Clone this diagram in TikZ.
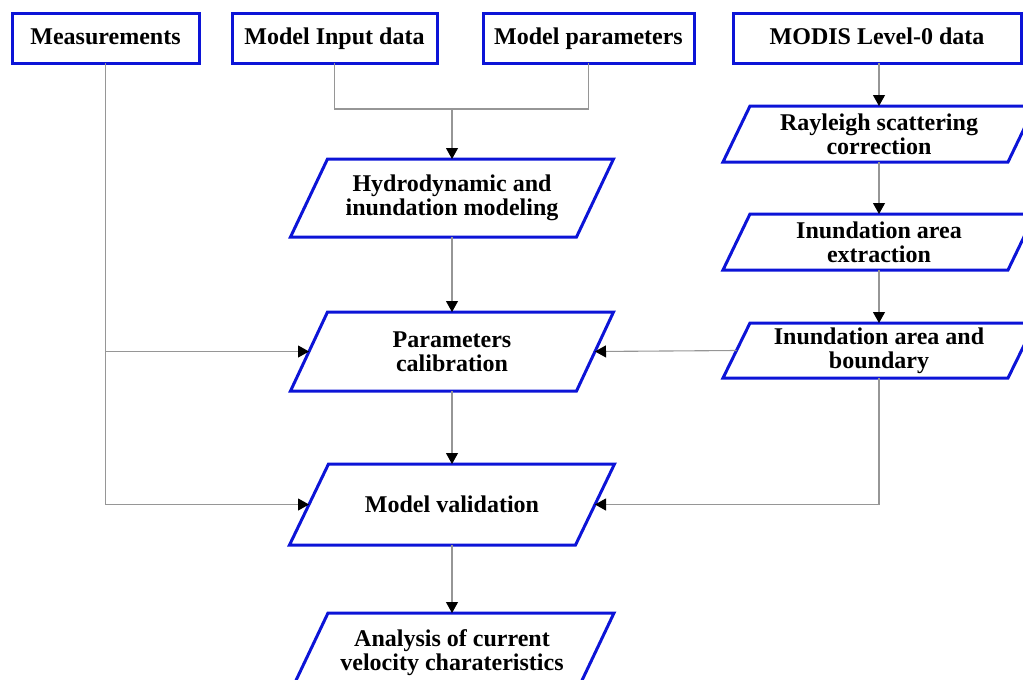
\documentclass[tikz,border=0pt]{standalone}
\usepackage{fontspec}
\setmainfont{Liberation Serif}
\usetikzlibrary{arrows.meta}
\definecolor{boxblue}{RGB}{12,20,215}
\definecolor{linegray}{RGB}{150,150,150}
\tikzset{
  txt/.style={inner sep=0pt,outer sep=0pt,align=center,font=\fontsize{24}{24}\selectfont\bfseries},
  rbox/.style={txt,draw=boxblue,line width=3pt,minimum height=50pt,text height=17pt,text depth=5pt},
  pbox/.style={draw=boxblue,line width=3pt,line join=miter},
  conn/.style={draw=linegray,line width=1.1pt},
  arr/.style={conn,-{Triangle[length=11pt,width=12pt,color=black,fill=black]}}
}
\newcommand\parabox[7]{%
  \node[txt,minimum width=#4pt,minimum height=#5pt] (#1) at (#2,#3) {#7};
  \draw[pbox] ([xshift=#6pt]#1.north west) -- ([xshift=#6pt]#1.north east)
     -- ([xshift=-#6pt]#1.south east) -- ([xshift=-#6pt]#1.south west) -- cycle;}
\begin{document}
\begin{tikzpicture}[x=1pt,y=-1pt]
\useasboundingbox (0,0) rectangle (1023,680);
\begin{scope}
\clip (0,0) rectangle (1023,680);
% top rectangles
\node[rbox,minimum width=187pt] (meas) at (105.5,38) {Measurements};
\node[rbox,minimum width=205pt] (inp) at (334.5,38) {Model Input data};
\node[rbox,minimum width=211pt] (par) at (588.5,38) {Model parameters};
\node[rbox,minimum width=288pt] (modis) at (877,38) {MODIS Level-0 data};
% parallelograms
\parabox{hyd}{452}{198}{286}{78}{18.5}{Hydrodynamic and\\inundation modeling}
\parabox{cal}{452}{351.5}{286}{79}{18.5}{Parameters\\calibration}
\parabox{val}{452}{504.5}{286}{81}{19.5}{Model validation}
\parabox{ana}{452}{653}{286}{80}{19}{Analysis of current\\velocity charateristics}
\parabox{ray}{879}{134}{285}{56}{13.5}{Rayleigh scattering\\correction}
\parabox{ext}{879}{242}{285}{56}{13.5}{Inundation area\\extraction}
\parabox{bnd}{879}{350.5}{285}{55}{13.5}{Inundation area and\\boundary}
% connectors
\coordinate (j) at (452,109);
\draw[conn] (inp.south) |- (j);
\draw[conn] (par.south) |- (j);
\draw[arr] (j) -- (hyd.north);
\draw[arr] (hyd.south) -- (cal.north);
\draw[arr] (cal.south) -- (val.north);
\draw[arr] (val.south) -- (ana.north);
\draw[arr] (meas.south) |- (val.west);
\draw[arr] (meas.south |- cal.west) -- (cal.west);
\draw[arr] (modis.south -| ray.north) -- (ray.north);
\draw[arr] (ray.south) -- (ext.north);
\draw[arr] (ext.south) -- (bnd.north);
\draw[arr] (bnd.west) -- (cal.east);
\draw[arr] (bnd.south) |- (val.east);
\end{scope}
\end{tikzpicture}
\end{document}
